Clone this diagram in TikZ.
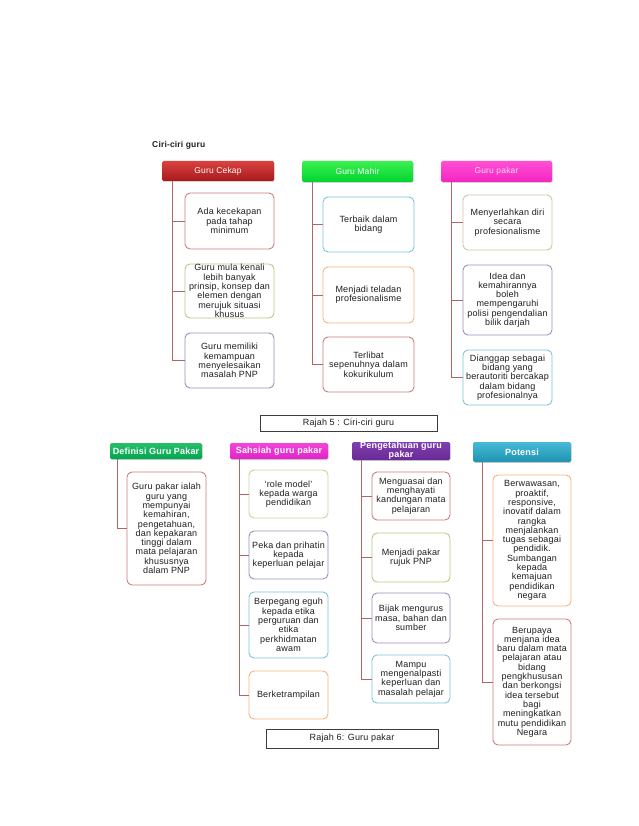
\documentclass[tikz,border=0pt]{standalone}
\usepackage{fontspec}
\setmainfont{Liberation Sans}
\newfontfamily\boxfont[LetterSpace=2]{Liberation Sans}
\usetikzlibrary{shadows}
\definecolor{connc}{RGB}{172,104,104}
\definecolor{bred}{RGB}{201,125,125}
\definecolor{bgreen}{RGB}{181,204,133}
\definecolor{bpurple}{RGB}{160,140,191}
\definecolor{bblue}{RGB}{127,196,216}
\definecolor{borange}{RGB}{245,181,125}
\definecolor{bkhaki}{RGB}{207,199,156}
\definecolor{bolive}{RGB}{201,211,154}
\definecolor{capc}{RGB}{60,60,60}
\definecolor{txt}{RGB}{30,30,30}
\tikzset{
  hdr/.style={rounded corners=1.5pt, inner sep=0pt, text=white, align=center,
    font=\boxfont\fontsize{8.5}{9}\selectfont,
    drop shadow={opacity=0.35,shadow xshift=0.6pt,shadow yshift=-0.9pt}},
  hdrb/.style={hdr, font=\boxfont\bfseries\fontsize{9}{9.2}\selectfont},
  item/.style={draw, line width=0.9pt, rounded corners=5pt, fill=white, inner sep=0pt,
    align=center, text=txt, font=\boxfont\fontsize{9}{9.3}\selectfont},
  conn/.style={draw=connc, line width=0.8pt},
  capbox/.style={draw=capc, line width=0.8pt, inner sep=0pt, fill=white, text=txt,
    font=\boxfont\fontsize{9}{9}\selectfont}
}
\begin{document}
\begin{tikzpicture}[x=1pt,y=-1pt]
\fill[white] (0,0) rectangle (638,826);
\useasboundingbox (0,0) rectangle (638,826);

% ---------- Ciri-ciri guru ----------
\node[anchor=west, inner sep=0pt, text=txt, font=\boxfont\bfseries\fontsize{8.5}{9}\selectfont] (title) at (152,145.5) {Ciri-ciri guru};

% Guru Cekap
\node[hdr, top color={rgb,255:red,217;green,66;blue,64}, bottom color={rgb,255:red,168;green,25;blue,28}, minimum width=112pt, minimum height=20pt] (hc) at (218,171) {Guru Cekap};
\node[item, draw=bred, minimum width=89pt, minimum height=56pt] (c1) at (229.5,221) {Ada kecekapan\\pada tahap\\minimum};
\node[item, draw=bgreen, minimum width=89pt, minimum height=54pt] (c2) at (229.5,291) {Guru mula kenali\\lebih banyak\\prinsip, konsep dan\\elemen dengan\\merujuk situasi\\khusus};
\node[item, draw=bpurple, minimum width=89pt, minimum height=55pt] (c3) at (229.5,360.5) {Guru memiliki\\kemampuan\\menyelesaikan\\masalah PNP};
\foreach \b in {c1,c2,c3} \draw[conn] ([xshift=11pt]hc.south west) |- (\b.west);

% Guru Mahir
\node[hdr, top color={rgb,255:red,60;green,240;blue,80}, bottom color={rgb,255:red,0;green,212;blue,48}, minimum width=111pt, minimum height=21pt] (hm) at (357.5,171.5) {Guru Mahir};
\node[item, draw=bblue, minimum width=91pt, minimum height=55pt] (m1) at (368.5,224.5) {Terbaik dalam\\bidang};
\node[item, draw=borange, minimum width=91pt, minimum height=56pt] (m2) at (368.5,295) {Menjadi teladan\\profesionalisme};
\node[item, draw=bred, minimum width=91pt, minimum height=55pt] (m3) at (368.5,364.5) {Terlibat\\sepenuhnya dalam\\kokurikulum};
\foreach \b in {m1,m2,m3} \draw[conn] ([xshift=11pt]hm.south west) |- (\b.west);

% Guru pakar
\node[hdr, text={rgb,255:red,255;green,215;blue,240}, top color={rgb,255:red,255;green,80;blue,212}, bottom color={rgb,255:red,245;green,36;blue,194}, minimum width=111pt, minimum height=21pt] (hp) at (496.5,171.5) {Guru pakar};
\node[item, draw=bkhaki, minimum width=89pt, minimum height=55pt] (p1) at (507.5,222.5) {Menyerlahkan diri\\secara\\profesionalisme};
\node[item, draw=bpurple, minimum width=89pt, minimum height=70pt] (p2) at (507.5,300) {Idea dan\\kemahirannya\\boleh\\mempengaruhi\\polisi pengendalian\\bilik darjah};
\node[item, draw=bblue, minimum width=89pt, minimum height=55pt] (p3) at (507.5,377.5) {Dianggap sebagai\\bidang yang\\berautoriti bercakap\\dalam bidang\\profesionalnya};
\foreach \b in {p1,p2,p3} \draw[conn] ([xshift=11pt]hp.south west) |- (\b.west);

\node[capbox, minimum width=177pt, minimum height=16pt] (cap1) at (348.5,423) {Rajah 5 : Ciri-ciri guru};

% ---------- Guru pakar ----------
% Definisi
\node[hdrb, top color={rgb,255:red,40;green,190;blue,105}, bottom color={rgb,255:red,0;green,166;blue,80}, minimum width=92pt, minimum height=16pt] (hd) at (156,451) {Definisi Guru Pakar};
\node[item, draw=bred, minimum width=79pt, minimum height=113pt] (d1) at (166.5,528.5) {Guru pakar ialah\\guru yang\\mempunyai\\kemahiran,\\pengetahuan,\\dan kepakaran\\tinggi dalam\\mata pelajaran\\khususnya\\dalam PNP};
\draw[conn] ([xshift=8pt]hd.south west) |- (d1.west);

% Sahsiah
\node[hdrb, top color={rgb,255:red,242;green,70;blue,218}, bottom color={rgb,255:red,226;green,34;blue,200}, minimum width=98pt, minimum height=16pt] (hs) at (279,451) {Sahsiah guru pakar};
\node[item, draw=bolive, minimum width=79pt, minimum height=48pt] (s1) at (288.5,494) {‘role model’\\kepada warga\\pendidikan};
\node[item, draw=bpurple, minimum width=79pt, minimum height=48pt] (s2) at (288.5,555) {Peka dan prihatin\\kepada\\keperluan pelajar};
\node[item, draw=bblue, minimum width=79pt, minimum height=66pt] (s3) at (288.5,625) {Berpegang eguh\\kepada etika\\perguruan dan\\etika\\perkhidmatan\\awam};
\node[item, draw=borange, minimum width=79pt, minimum height=48pt] (s4) at (288.5,695) {Berketrampilan};
\foreach \b in {s1,s2,s3,s4} \draw[conn] ([xshift=10pt]hs.south west) |- (\b.west);

% Pengetahuan
\node[hdrb, top color={rgb,255:red,128;green,64;blue,176}, bottom color={rgb,255:red,104;green,42;blue,150}, minimum width=98pt, minimum height=18pt] (hk) at (401,451) {Pengetahuan guru\\pakar};
\node[item, draw=bred, minimum width=78pt, minimum height=48pt] (k1) at (411,496) {Menguasai dan\\menghayati\\kandungan mata\\pelajaran};
\node[item, draw=bgreen, minimum width=78pt, minimum height=49pt] (k2) at (411,557.5) {Menjadi pakar\\rujuk PNP};
\node[item, draw=bpurple, minimum width=78pt, minimum height=50pt] (k3) at (411,618) {Bijak mengurus\\masa, bahan dan\\sumber};
\node[item, draw=bblue, minimum width=78pt, minimum height=48pt] (k4) at (411,679) {Mampu\\mengenalpasti\\keperluan dan\\masalah pelajar};
\foreach \b in {k1,k2,k3,k4} \draw[conn] ([xshift=10pt]hk.south west) |- (\b.west);

% Potensi
\node[hdrb, top color={rgb,255:red,70;green,186;blue,214}, bottom color={rgb,255:red,32;green,146;blue,178}, minimum width=98pt, minimum height=20pt] (ht) at (522,452) {Potensi};
\node[item, draw=borange, minimum width=78pt, minimum height=131pt] (t1) at (532,540.5) {Berwawasan,\\proaktif,\\responsive,\\inovatif dalam\\rangka\\menjalankan\\tugas sebagai\\pendidik.\\Sumbangan\\kepada\\kemajuan\\pendidikan\\negara};
\node[item, draw=bred, minimum width=78pt, minimum height=126pt] (t2) at (532,682) {Berupaya\\menjana idea\\baru dalam mata\\pelajaran atau\\bidang\\pengkhususan\\dan berkongsi\\idea tersebut\\bagi\\meningkatkan\\mutu pendidikan\\Negara};
\foreach \b in {t1,t2} \draw[conn] ([xshift=10pt]ht.south west) |- (\b.west);

\node[capbox, minimum width=172pt, minimum height=19pt] (cap2) at (352,738.5) {Rajah 6: Guru pakar};
\end{tikzpicture}
\end{document}
